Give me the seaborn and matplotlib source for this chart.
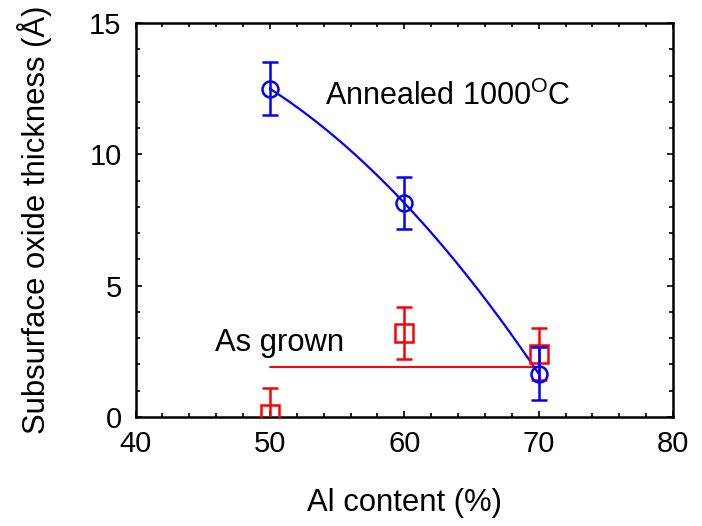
import numpy as np
import pandas as pd
import matplotlib
matplotlib.use("Agg")
import matplotlib.pyplot as plt
import seaborn as sns
from matplotlib.ticker import MultipleLocator

# ---- data ----
al_content = [50, 60, 70]
annealed = [12.5, 8.15, 1.65]
annealed_err = [1.0, 1.0, 1.0]
as_grown = [0.12, 3.2, 2.4]
as_grown_err = [1.0, 1.0, 1.0]
as_grown_level = 1.9  # horizontal guide line for "As grown"

x_ticks = [40, 50, 60, 70, 80]
y_ticks = [0, 5, 10, 15]

sns.set_style("ticks")
plt.rcParams['font.family'] = ['Liberation Sans', 'DejaVu Sans']
plt.rcParams['mathtext.fontset'] = 'custom'
plt.rcParams['mathtext.rm'] = 'Liberation Sans'
plt.rcParams['mathtext.it'] = 'Liberation Sans:italic'
plt.rcParams['text.color'] = 'black'
plt.rcParams['axes.labelcolor'] = 'black'
plt.rcParams['xtick.color'] = 'black'
plt.rcParams['ytick.color'] = 'black'

fig = plt.figure(figsize=(7.02, 5.26), dpi=100)
W, H = 702, 526
left, right, top, bottom = 135.5, 673, 23, 417
ax = fig.add_axes([left / W, 1 - bottom / H, (right - left) / W, (bottom - top) / H])

# fitted curve for annealed (quadratic through points)
coef = np.polyfit(al_content, annealed, 2)
xf = np.linspace(al_content[0], al_content[-1], 200)
fit_df = pd.DataFrame({"x": xf, "y": np.polyval(coef, xf)})
sns.lineplot(data=fit_df, x="x", y="y", ax=ax, color="#0000ff", lw=1.6, zorder=3)

# as grown guide line
line_df = pd.DataFrame({"x": [al_content[0], al_content[-1]],
                        "y": [as_grown_level, as_grown_level]})
sns.lineplot(data=line_df, x="x", y="y", ax=ax, color="#ff0000", lw=1.4, zorder=2)

# markers with error bars
ax.errorbar(al_content, as_grown, yerr=as_grown_err, fmt="s", ms=12.5,
            mfc="none", mec="#ff0000", mew=1.8, ecolor="#ff0000", elinewidth=1.8,
            capsize=6, capthick=1.8, zorder=4, clip_on=True)
ax.errorbar(al_content, annealed, yerr=annealed_err, fmt="o", ms=11.5,
            mfc="none", mec="#0000ff", mew=1.8, ecolor="#0000ff", elinewidth=1.8,
            capsize=6, capthick=1.8, zorder=5, clip_on=True)

ax.text(54.1, 11.88, "Annealed 1000$^{\\mathrm{O}}$C", fontsize=22, ha="left",
        va="baseline")
ax.text(45.9, 2.52, "As grown", fontsize=22.3, ha="left", va="baseline")

ax.set_xlim(40, 80)
ax.set_ylim(0, 15)
ax.set_xticks(x_ticks)
ax.set_yticks(y_ticks)
ax.xaxis.set_minor_locator(MultipleLocator(2))
ax.yaxis.set_minor_locator(MultipleLocator(1))
ax.tick_params(which="both", direction="in", top=True, right=True, width=1.2,
               color="black")
ax.tick_params(which="major", length=4)
ax.tick_params(which="minor", length=3)
ax.tick_params(axis="x", which="major", labelsize=21, pad=9)
ax.tick_params(axis="y", which="major", labelsize=21, pad=10)
for s in ax.spines.values():
    s.set_visible(True)
    s.set_linewidth(1.8)
    s.set_color("black")

ax.set_xlabel("Al content (%)", fontsize=22.3)
ax.set_ylabel("Subsurface oxide thickness (Å)", fontsize=22.3)
ax.xaxis.set_label_coords(0.5, (bottom - 488) / (bottom - top))
ax.yaxis.set_label_coords((52 - left) / (right - left), 0.5)

fig.savefig("out.png", dpi=100, facecolor="white")
